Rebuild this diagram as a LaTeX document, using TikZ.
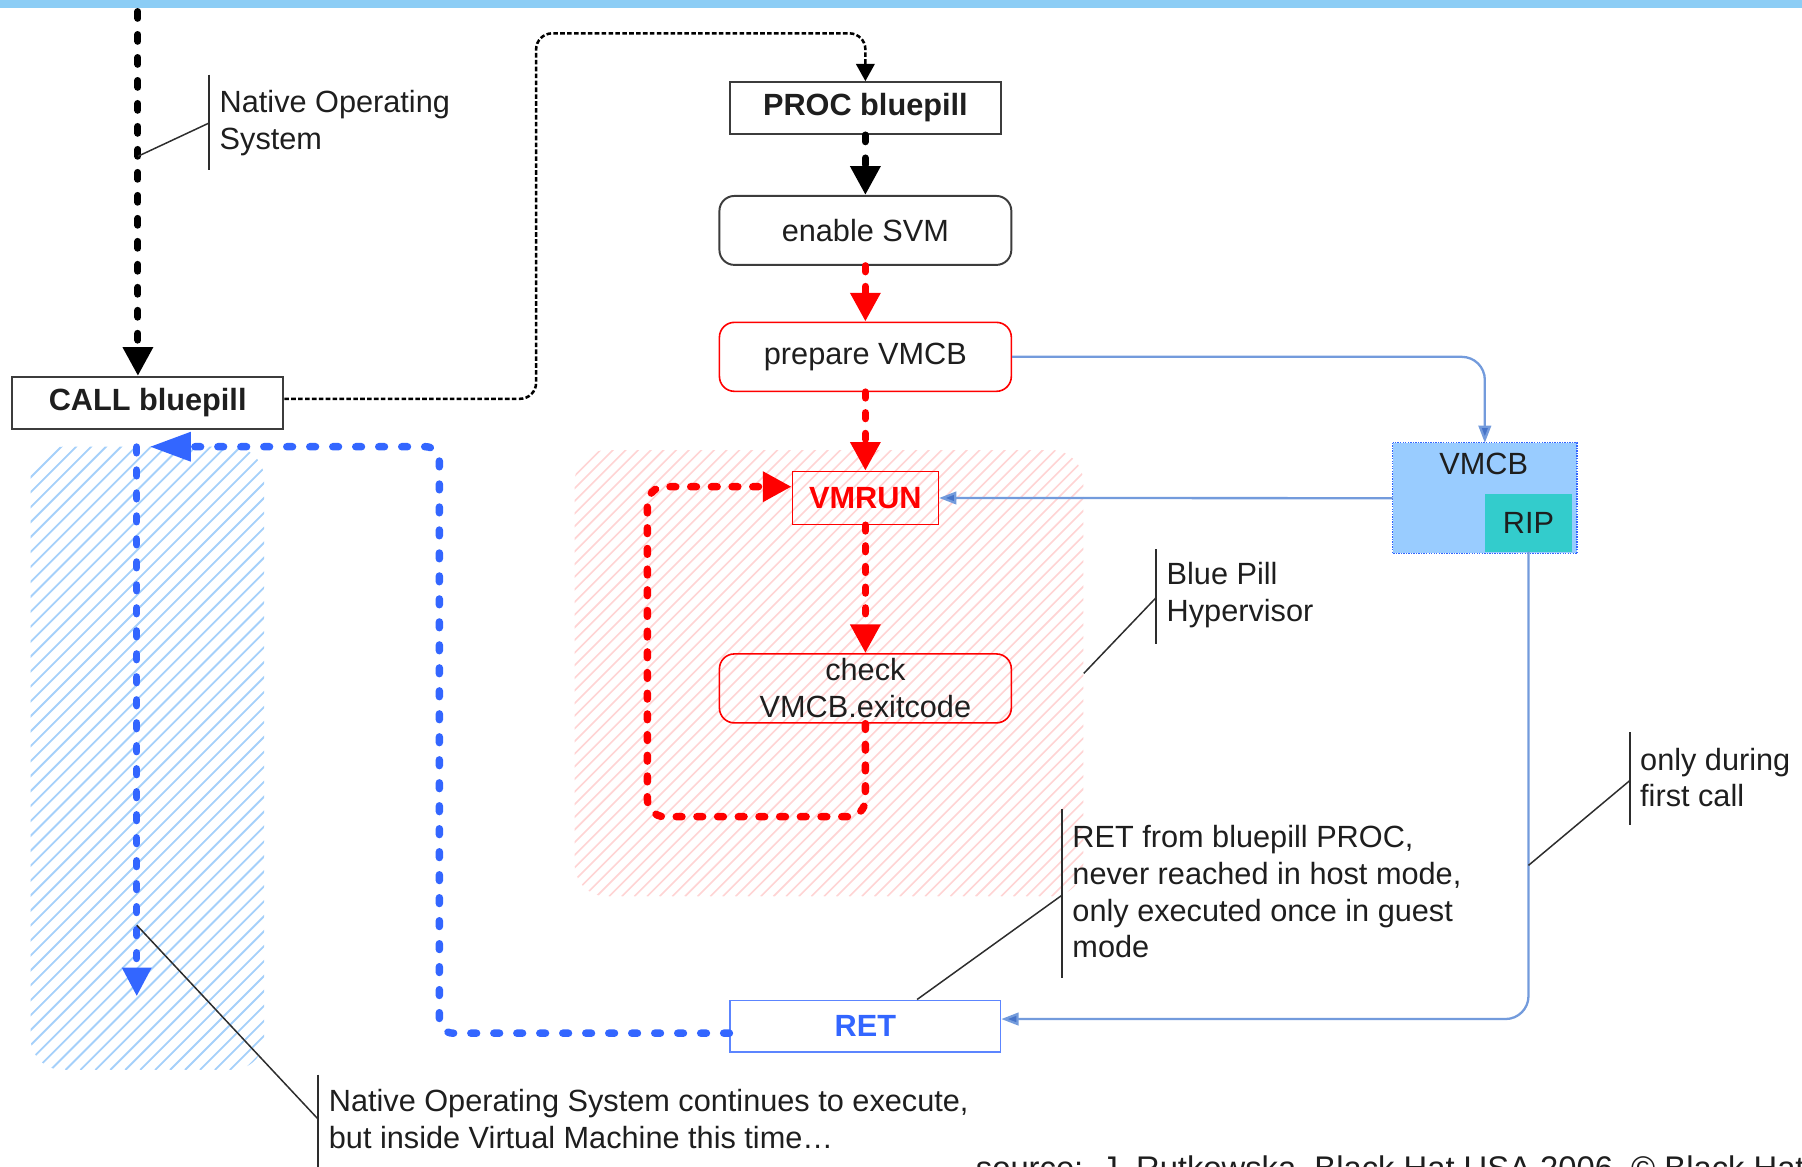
\documentclass[tikz,border=0pt]{standalone}
\usepackage{fontspec}
\setmainfont{Liberation Sans}
\usetikzlibrary{arrows.meta}
\definecolor{topbar}{RGB}{140,205,245}
\definecolor{bdash}{RGB}{51,102,255}
\definecolor{thinblue}{RGB}{115,155,220}
\definecolor{tipblue}{RGB}{70,115,200}
\definecolor{vmcbfill}{RGB}{153,204,255}
\definecolor{ripfill}{RGB}{51,204,204}
\definecolor{txt}{RGB}{30,30,30}
\definecolor{boxgray}{RGB}{60,60,60}
\definecolor{hatchblue}{RGB}{165,208,250}
\definecolor{hatchred}{RGB}{255,212,212}
\definecolor{annot}{RGB}{45,45,45}
\begin{document}
\begin{tikzpicture}[x=1pt,y=-1pt,
  every node/.style={font=\fontsize{26.7}{32}\selectfont, text=txt, inner sep=0pt},
  sqbox/.style={draw=boxgray, line width=1.8pt, fill=white, minimum width=236pt, minimum height=45pt, font=\fontsize{26.7}{32}\selectfont\bfseries},
  rbox/.style={draw=boxgray, line width=1.7pt, rounded corners=13pt, minimum width=254pt, minimum height=60pt},
  redbox/.style={rbox, draw=red, line width=1.4pt},
  blackflow/.style={line width=6pt, dash pattern=on 6pt off 14pt, line cap=round, -{Triangle[length=25pt,width=25pt]}},
  redflow/.style={red, line width=6.5pt, dash pattern=on 5pt off 13pt, line cap=round, -{Triangle[length=25pt,width=25pt]}},
  blueflow/.style={bdash, line width=6.5pt, dash pattern=on 5pt off 15pt, line cap=round},
  thinflow/.style={thinblue, line width=2pt, -{Triangle[length=15pt,width=11pt,fill=tipblue]}},
  calldash/.style={line width=2.2pt, dash pattern=on 4pt off 2pt, -{Triangle[length=15pt,width=16pt]}},
  note/.style={anchor=west, align=left},
  notebar/.style={annot, line width=1.6pt},
  leader/.style={annot, line width=1.3pt}
]
\useasboundingbox (0,0) rectangle (1568,1015);
\clip (0,0) rectangle (1568,1015);
\fill[topbar] (0,0) rectangle (1568,7);

% hatched regions
\begin{scope}
  \clip[rounded corners=28pt] (26.6,388.7) rectangle (229.8,931);
  \foreach \k in {0,...,58} \draw[hatchblue, line width=1.6pt] ({-515+13*\k},931) -- ++(560,-560);
\end{scope}
\begin{scope}
  \clip[rounded corners=28pt] (500,391.6) rectangle (942.6,780);
  \foreach \k in {0,...,77} \draw[hatchred, line width=1.4pt] ({112+11*\k},780) -- ++(400,-400);
\end{scope}

% nodes
\node[sqbox] (call) at (128.5,350.5) {CALL bluepill};
\node[sqbox] (proc) at (753,94) {PROC bluepill};
\node[rbox, fill=white] (enable) at (753,200.5) {enable SVM};
\node[redbox, fill=white] (prepare) at (753,310.5) {prepare VMCB};
\node[draw=red, line width=1.4pt, minimum width=127pt, minimum height=46pt, text=red, font=\fontsize{26.7}{32}\selectfont\bfseries] (vmrun) at (753,433.3) {VMRUN};
\node[redbox, align=center] (check) at (753,599) {check\\VMCB.exitcode};
\node[fill=vmcbfill, minimum width=160pt, minimum height=96pt] (vmcb) at (1292,433.5) {};
\node[fill=ripfill, minimum width=76pt, minimum height=50pt] (rip) at (1330,455) {RIP};
\draw[bdash, line width=1.2pt, densely dotted] (vmcb.north west) rectangle (vmcb.south east);
\node (vmcblabel) at (1291,404) {VMCB};
\node[draw=bdash!80, line width=1.6pt, minimum width=235pt, minimum height=45pt, text=bdash, font=\fontsize{26.7}{32}\selectfont\bfseries] (ret) at (753,893) {RET};

% coordinates
\coordinate (ostop) at (120,10);
\coordinate (vmtop) at (119,389);
\coordinate (vmbottom) at (119,867);
\coordinate (vmentry) at (130,388.7);

% main flow
\draw[blackflow] (ostop) -- (ostop |- call.north);
\draw[calldash, rounded corners=14pt] ([yshift=3.5pt]call.east) -- (466.5,347) -- (466.5,29) -- (753,29) -- (proc.north);
\draw[blackflow] (proc.south) -- (enable.north);
\draw[redflow] (enable.south) -- (prepare.north);
\draw[redflow] (prepare.south) -- (vmrun.north);
\draw[redflow] (vmrun.south) -- (check.north);
\draw[redflow, rounded corners=15pt] (check.south) -- (753,710.6) -- (563.3,710.6) -- (563.3,423.5) -- ([yshift=9.8pt]vmrun.west);
\draw[thinflow, rounded corners=20pt] (prepare.east) -| (vmcb.north);
\draw[thinflow] (vmcb.west) -- (vmrun.east);
\draw[thinflow, rounded corners=20pt] (rip.south) |- ([yshift=6.3pt]ret.east);
\draw[blueflow, -{Triangle[length=36pt,width=24pt]}, rounded corners=12pt] ([yshift=-6pt]ret.west) -- (382.3,899) -- (382.3,388.7) -- (vmentry);
\draw[blueflow, -{Triangle[length=25pt,width=24pt]}] (vmtop) -- (vmbottom);

% annotations
\node[note] (n1) at (191,107) {Native Operating\\System};
\draw[notebar] (182,65) -- (182,148);
\draw[leader] (120,136) -- (182,107);

\node[note] (n2) at (1015,518) {Blue Pill\\Hypervisor};
\draw[notebar] (1006,478) -- (1006,560);
\draw[leader] (943,586) -- (1006,520);

\node[note] (n3) at (933,776) {RET from bluepill PROC,\\never reached in host mode,\\only executed once in guest\\mode};
\draw[notebar] (924,704) -- (924,851);
\draw[leader] ([xshift=45pt]ret.north) -- (924,779);

\node[note] (n4) at (1427,676.5) {only during\\first call};
\draw[notebar] (1418.4,637) -- (1418.4,718);
\draw[leader] (1330,753) -- (1418.4,679);

\node[note] (n5) at (286,974) {Native Operating System continues to execute,\\but inside Virtual Machine this time\dots};
\draw[notebar] (277,935) -- (277,1020);
\draw[leader] (119,805) -- (277,974);

\node[anchor=base west, font=\fontsize{28.5}{34}\selectfont] (src) at (849,1026) {source:~~J. Rutkowska, Black Hat USA 2006, © Black Hat};
\end{tikzpicture}
\end{document}
